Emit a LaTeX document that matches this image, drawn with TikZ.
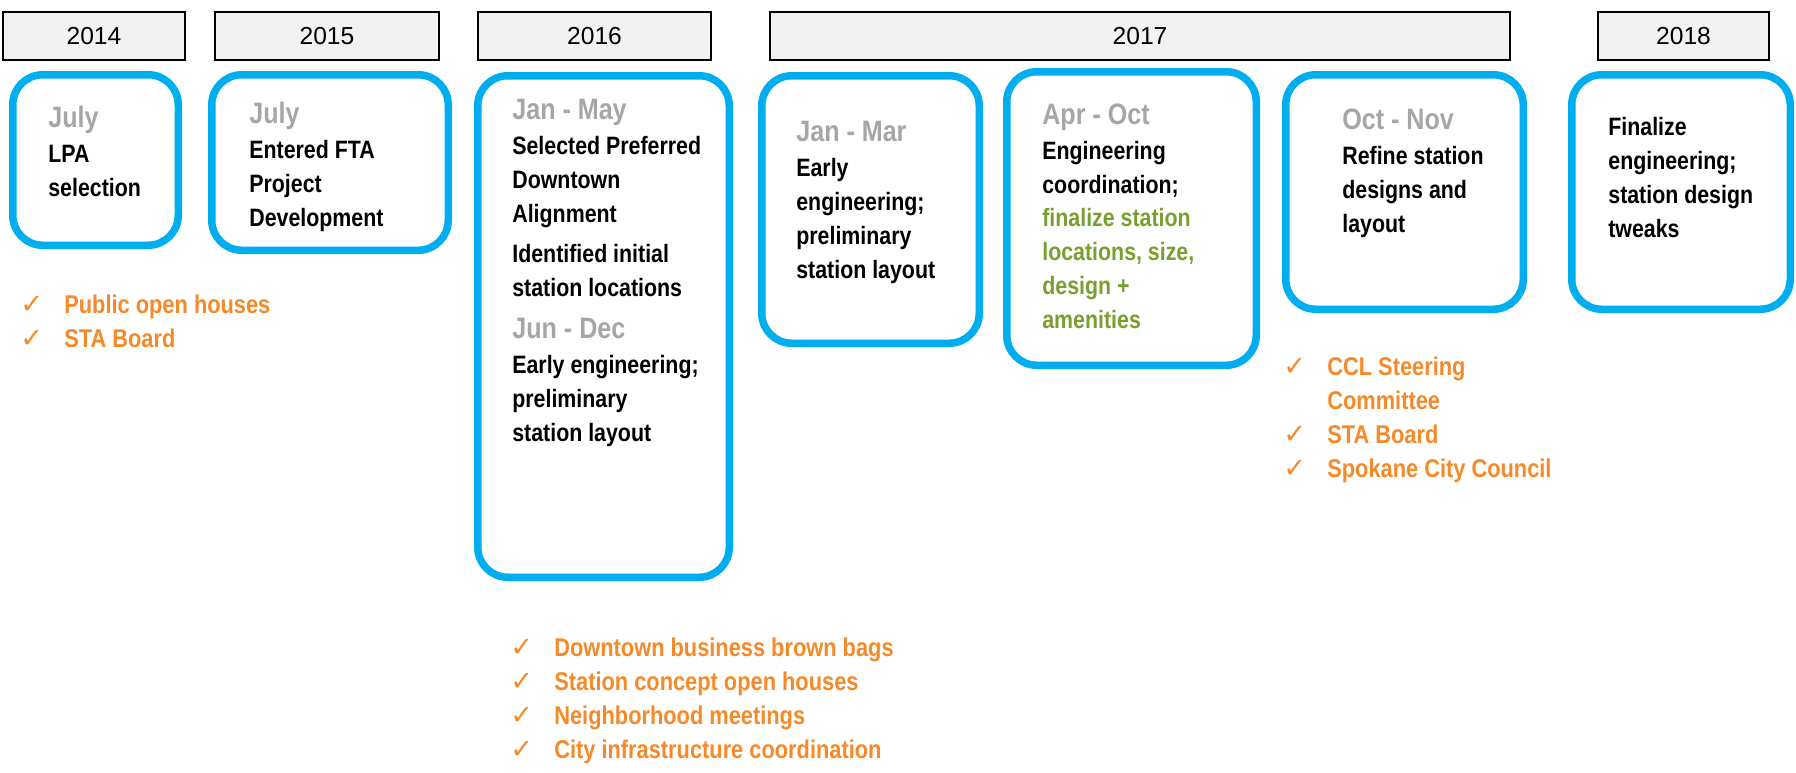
\documentclass[tikz,border=0pt]{standalone}
\usepackage{fontspec}
\setmainfont{Liberation Sans}
\newfontfamily\condfont[FakeStretch=0.85]{Liberation Sans}
\newfontfamily\tickfont{DejaVu Sans}
\usetikzlibrary{positioning}

\definecolor{frameblue}{RGB}{0,174,239}
\definecolor{monthgray}{RGB}{166,166,166}
\definecolor{notegreen}{RGB}{119,160,46}
\definecolor{outreach}{RGB}{246,137,40}

% month range above a phase, and the tick in front of an outreach item
\newcommand{\period}[1]{{\fontsize{16.8}{19.2}\selectfont\color{monthgray}#1}}
\newcommand{\donemark}{\makebox[0.88cm][l]{\tickfont\mdseries\fontsize{15.5}{14}\selectfont ✓}}
\newcommand{\donespace}{\hspace*{0.88cm}}

\begin{document}
\begin{tikzpicture}[
    yearbox/.style={draw=black, line width=1.1pt, fill=gray!10, minimum height=0.97cm, inner sep=0pt, font=\fontsize{14}{16}\selectfont},
    phasebox/.style={draw=frameblue, line width=0.15cm, rounded corners=0.6cm, inner sep=0pt},
    phasetext/.style={anchor=base west, align=left, inner sep=0pt, font=\condfont\bfseries\fontsize{14.3}{19.2}\selectfont},
    outreachlist/.style={phasetext, text=outreach, font=\condfont\bfseries\fontsize{14.6}{19.2}\selectfont},
    ]
  \useasboundingbox (0,0) rectangle (35.92,-15.44);

  % years
  \node[yearbox, minimum width=3.65cm] (y2014) at (1.88,-0.72) {2014};
  \node[yearbox, minimum width=4.49cm] (y2015) at (6.54,-0.72) {2015};
  \node[yearbox, minimum width=4.67cm] (y2016) at (11.89,-0.72) {2016};
  \node[yearbox, minimum width=14.81cm] (y2017) at (22.80,-0.72) {2017};
  \node[yearbox, minimum width=3.43cm] (y2018) at (33.67,-0.72) {2018};

  % phase frames
  \node[phasebox, minimum width=3.31cm, minimum height=3.41cm] (p1) at (1.91,-3.20) {};
  \node[phasebox, minimum width=4.73cm, minimum height=3.51cm] (p2) at (6.60,-3.25) {};
  \node[phasebox, minimum width=5.03cm, minimum height=10.03cm] (p3) at (12.07,-6.53) {};
  \node[phasebox, minimum width=4.35cm, minimum height=5.35cm] (p4) at (17.41,-4.19) {};
  \node[phasebox, minimum width=4.99cm, minimum height=5.87cm] (p5) at (22.63,-4.37) {};
  \node[phasebox, minimum width=4.75cm, minimum height=4.69cm] (p6) at (28.09,-3.84) {};
  \node[phasebox, minimum width=4.37cm, minimum height=4.69cm] (p7) at (33.62,-3.84) {};

  % phase texts (placed at the baseline of their last line)
  \node[phasetext] (t1) at (0.96,-3.92) {\period{July}\\[0.03cm] LPA\\ selection};
  \node[phasetext] (t2) at (4.98,-4.52) {\period{July}\\[0.03cm] Entered FTA\\ Project\\ Development};
  \node[phasetext] (t3) at (10.24,-8.82) {\period{Jan - May}\\[0.03cm] Selected Preferred\\ Downtown\\ Alignment\\[0.13cm]
    Identified initial\\ station locations\\[0.17cm] \period{Jun - Dec}\\[0.03cm] Early engineering;\\ preliminary\\ station layout};
  \node[phasetext] (t4) at (15.92,-5.56) {\period{Jan - Mar}\\[0.03cm] Early\\ engineering;\\ preliminary\\ station layout};
  \node[phasetext] (t5) at (20.84,-6.56) {\period{Apr - Oct}\\[0.03cm] Engineering\\ coordination;\\
    \textcolor{notegreen}{finalize station}\\ \textcolor{notegreen}{locations, size,}\\ \textcolor{notegreen}{design +}\\ \textcolor{notegreen}{amenities}};
  \node[phasetext] (t6) at (26.84,-4.64) {\period{Oct - Nov}\\[0.03cm] Refine station\\ designs and\\ layout};
  \node[phasetext] (t7) at (32.16,-4.74) {Finalize\\ engineering;\\ station design\\ tweaks};

  % outreach
  \node[outreachlist] (o1) at (0.40,-6.94) {\donemark Public open houses\\ \donemark STA Board};
  \node[outreachlist] (o2) at (10.20,-15.16) {\donemark Downtown business brown bags\\ \donemark Station concept open houses\\
    \donemark Neighborhood meetings\\ \donemark City infrastructure coordination};
  \node[outreachlist] (o3) at (25.66,-9.54) {\donemark CCL Steering\\ \donespace Committee\\ \donemark STA Board\\ \donemark Spokane City Council};
\end{tikzpicture}
\end{document}
